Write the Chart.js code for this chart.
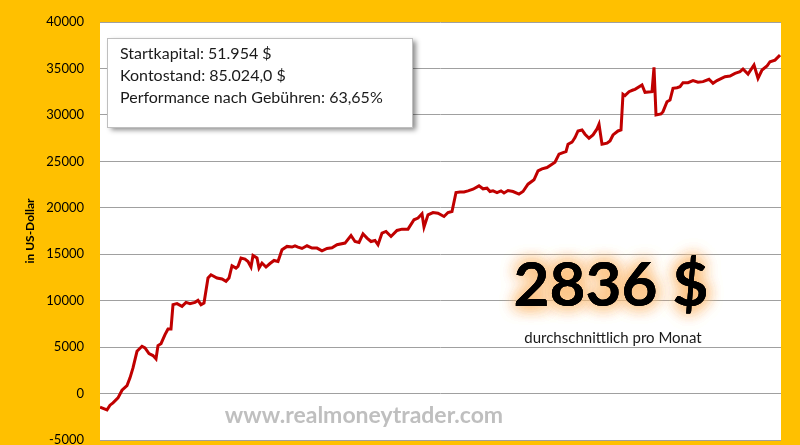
<!DOCTYPE html>
<html>
<head>
<meta charset="utf-8">
<script src="https://cdn.jsdelivr.net/npm/chart.js@4.4.0/dist/chart.umd.min.js"></script>
<style>
  body { margin: 0; background: #FFC000; }
  canvas { display: block; }
</style>
</head>
<body>
<canvas id="equityChart" width="800" height="445"></canvas>
<script>
// trading day of each reading and account balance in US-Dollar
const days = [
  0, 7, 10, 13, 18, 22, 27, 30, 33, 37, 42, 45, 49, 53, 56, 58, 61, 65, 68, 71,
  73, 77, 82, 86, 90, 95, 98, 101, 104, 108, 111, 117, 122, 126, 129, 132, 136, 138, 141, 145,
  148, 151, 153, 157, 159, 162, 166, 170, 174, 178, 182, 187, 192, 195, 198, 202, 207, 212, 217, 222,
  227, 232, 237, 245, 251, 255, 259, 263, 267, 271, 275, 278, 282, 286, 291, 297, 302, 308, 314, 318,
  322, 324, 328, 333, 338, 344, 348, 352, 356, 360, 364, 368, 373, 379, 383, 387, 390, 393, 397, 401,
  404, 408, 413, 419, 423, 428, 434, 438, 442, 447, 452, 455, 459, 463, 466, 468, 472, 475, 478, 482,
  485, 489, 493, 497, 499, 502, 507, 510, 513, 518, 521, 523, 525, 529, 533, 535, 542, 545, 552, 554,
  556, 561, 563, 567, 570, 573, 577, 580, 583, 588, 593, 598, 603, 609, 613, 617, 625, 630, 635, 640,
  643, 648, 654, 658, 662, 667, 670, 675, 680
];
const balance = [
  -1470, -1750, -1250, -1000, -460, 360, 860, 1690, 2760, 4550, 5090, 4910, 4300, 4090, 3730, 5160, 5375, 6340, 6950, 6950,
  9570, 9680, 9390, 9820, 9680, 9820, 10030, 9570, 9750, 12440, 12790, 12440, 12330, 12080, 12440, 13760, 13510, 13690, 14590, 14480,
  14220, 13620, 14870, 14590, 13510, 14050, 13620, 14000, 14330, 14220, 15480, 15840, 15770, 15910, 15770, 15620, 15910, 15660, 15660, 15370,
  15620, 15700, 16020, 16200, 17020, 16370, 16270, 17200, 16740, 16370, 16480, 16020, 17280, 17450, 16910, 17560, 17700, 17700, 18710, 18890,
  19350, 17920, 19240, 19490, 19420, 19060, 19490, 19600, 21640, 21700, 21700, 21820, 22000, 22360, 22040, 22110, 21750, 21820, 21640, 21820,
  21600, 21860, 21750, 21470, 21750, 22540, 23010, 23970, 24190, 24330, 24690, 24910, 25770, 25940, 26050, 26840, 27060, 27560, 28270, 28380,
  27920, 27490, 27840, 28490, 28990, 26840, 26950, 27200, 27840, 28270, 28380, 32220, 32070, 32500, 32680, 32750, 33220, 32430, 32500, 35120,
  30000, 30100, 30350, 31420, 31600, 32860, 32930, 33040, 33470, 33470, 33690, 33510, 33580, 33830, 33400, 33690, 34110, 34190, 34470, 34650,
  34940, 34400, 35370, 33940, 34830, 35260, 35720, 35900, 36440
];

const yMin = -5000;
const yMax = 40000;
const yStep = 5000;

const infoLines = [
  'Startkapital: 51.954 $',
  'Kontostand: 85.024,0 $',
  'Performance nach Gebühren: 63,65%'
];
const avgText = '2836 $';
const avgLabel = 'durchschnittlich pro Monat';
const siteText = 'www.realmoneytrader.com';

const fontFamily = 'Lato, "Liberation Sans", sans-serif';

// orange frame, white plot area and the text overlays
const decorPlugin = {
  id: 'decor',
  beforeDraw(chart) {
    const { ctx, chartArea } = chart;
    ctx.save();
    ctx.fillStyle = '#FFC000';
    ctx.fillRect(0, 0, chart.width, chart.height);
    ctx.fillStyle = '#FFFFFF';
    ctx.fillRect(chartArea.left, chartArea.top, chartArea.right - chartArea.left, chartArea.bottom - chartArea.top);
    ctx.restore();
  },
  afterDraw(chart) {
    const { ctx } = chart;
    ctx.save();

    // info box with shadow
    ctx.shadowColor = 'rgba(0, 0, 0, 0.45)';
    ctx.shadowBlur = 5;
    ctx.shadowOffsetX = 3;
    ctx.shadowOffsetY = 3;
    ctx.fillStyle = '#FFFFFF';
    ctx.fillRect(108, 38, 305, 89);
    ctx.shadowColor = 'transparent';
    ctx.strokeStyle = '#BFBFBF';
    ctx.lineWidth = 1;
    ctx.strokeRect(107.5, 38.5, 305, 89);

    ctx.fillStyle = '#1a1a1a';
    ctx.font = `16px ${fontFamily}`;
    ctx.textBaseline = 'middle';
    ctx.textAlign = 'left';
    infoLines.forEach((line, i) => {
      ctx.fillText(line, 120, 54 + i * 22);
    });

    // average per month with orange glow
    ctx.font = `bold 62px ${fontFamily}`;
    ctx.textAlign = 'center';
    ctx.fillStyle = '#000000';
    ctx.shadowColor = 'rgba(252, 190, 120, 0.95)';
    ctx.shadowOffsetX = 0;
    ctx.shadowOffsetY = 0;
    ctx.shadowBlur = 16;
    for (let k = 0; k < 3; k++) {
      ctx.fillText(avgText, 611, 286);
    }
    ctx.shadowColor = 'transparent';
    ctx.fillText(avgText, 611, 286);

    ctx.font = `15px ${fontFamily}`;
    ctx.fillStyle = '#1a1a1a';
    ctx.fillText(avgLabel, 613, 338);

    // watermark
    ctx.font = `bold 23px ${fontFamily}`;
    ctx.fillStyle = '#BFBFBF';
    ctx.fillText(siteText, 364, 416);

    ctx.restore();
  }
};

new Chart(document.getElementById('equityChart'), {
  type: 'line',
  data: {
    datasets: [{
      label: 'Kontostand',
      data: days.map((d, i) => ({ x: d, y: balance[i] })),
      borderColor: '#C00000',
      borderWidth: 3,
      pointRadius: 0,
      tension: 0,
      fill: false,
    }],
  },
  options: {
    responsive: false,
    animation: false,
    layout: {
      padding: { top: 22, right: 19, bottom: 5, left: 0 },
    },
    plugins: {
      legend: { display: false },
      tooltip: { enabled: false },
    },
    scales: {
      x: {
        type: 'linear',
        display: false,
        min: 0,
        max: 681,
      },
      y: {
        min: yMin,
        max: yMax,
        ticks: {
          stepSize: yStep,
          color: '#000000',
          padding: 16,
          font: { family: fontFamily, size: 13 },
          callback: (value) => String(value),
        },
        grid: {
          color: '#A0A0A0',
          lineWidth: 1,
          drawTicks: false,
        },
        border: { display: false },
        title: {
          display: true,
          text: 'in US-Dollar',
          color: '#000000',
          padding: { top: 23, bottom: 0 },
          font: { family: fontFamily, size: 12, weight: 'bold' },
        },
        afterFit(scale) {
          // fixed axis width, and no extra room reserved for the end labels
          scale.width = 100;
          scale.paddingTop = 0;
          scale.paddingBottom = 0;
        },
      },
    },
  },
  plugins: [decorPlugin],
});
</script>
</body>
</html>
